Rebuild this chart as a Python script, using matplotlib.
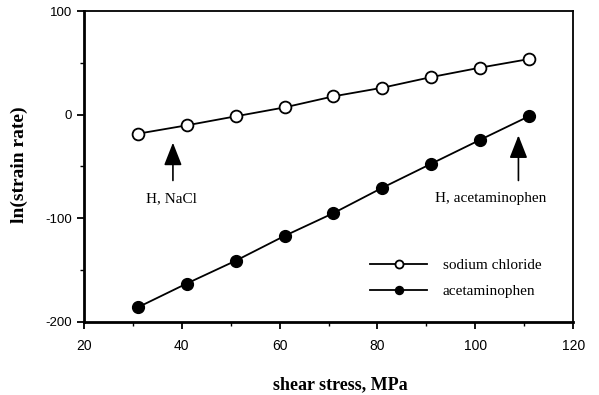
import matplotlib
matplotlib.use("Agg")
import matplotlib.pyplot as plt
from matplotlib.ticker import MultipleLocator
from matplotlib.patches import ArrowStyle

plt.rcParams['axes.unicode_minus'] = False

shear = [31, 41, 51, 61, 71, 81, 91, 101, 111]
nacl = [-18.4, -10.3, -1.6, 7.0, 17.7, 26.0, 36.3, 45.4, 53.7]
acet = [-186, -163, -141, -117, -95, -70.5, -47.3, -24.2, -1.4]
xticks = [20, 40, 60, 80, 100, 120]
yticks = [-200, -100, 0, 100]

fig = plt.figure(figsize=(5.99, 3.95), dpi=100)
ax = fig.add_axes([0.140, 0.185, 0.817, 0.787])

ax.plot(shear, nacl, '-o', color='black', mfc='white', mec='black', mew=1.3,
        ms=8.5, lw=1.3, label='sodium chloride')
ax.plot(shear, acet, '-o', color='black', mfc='black', mec='black',
        ms=8.5, lw=1.3, label='acetaminophen')

ax.set_xlim(20, 120)
ax.set_ylim(-200, 100)
ax.set_xticks(xticks)
ax.set_yticks(yticks)
ax.xaxis.set_minor_locator(MultipleLocator(10))
ax.yaxis.set_minor_locator(MultipleLocator(50))
ax.tick_params(which='major', direction='out', length=5, width=1.3,
               labelsize=9.5, labelfontfamily='Liberation Sans')
ax.tick_params(axis='x', which='major', pad=7, labelsize=10)
ax.tick_params(which='minor', direction='out', length=3, width=1.0)
for s in ['left', 'bottom']:
    ax.spines[s].set_linewidth(2.0)
for s in ['top', 'right']:
    ax.spines[s].set_linewidth(1.3)

ax.set_xlabel('shear stress, MPa', fontfamily='Liberation Serif',
              fontweight='bold', fontsize=13)
ax.xaxis.set_label_coords(0.5235, -0.203)
ax.xaxis.label.set_va('center')
ax.set_ylabel('ln(strain rate)', fontfamily='Liberation Serif',
              fontweight='bold', fontsize=14)
ax.yaxis.set_label_coords(-0.131, 0.505)
ax.yaxis.label.set_va('center')

astyle = ArrowStyle('-|>', head_length=1.4, head_width=0.55)
for xa, ytip, xt, label in [(38.2, -27, 37.8, 'H, NaCl'),
                            (108.8, -20, 103.2, 'H, acetaminophen')]:
    ax.annotate('', xy=(xa, ytip), xytext=(xa, -63.5),
                arrowprops=dict(arrowstyle=astyle, color='black', lw=1.2,
                                mutation_scale=10, shrinkA=0, shrinkB=0))
    ax.text(xt, -81, label, ha='center', va='center',
            fontfamily='Liberation Serif', fontsize=11)

leg = ax.legend(loc='center left', bbox_to_anchor=(0.573, 0.14),
                borderaxespad=0, frameon=False,
                prop={'family': 'Liberation Serif', 'size': 11},
                handlelength=3.7, markerscale=0.68, labelspacing=0.8,
                handletextpad=1.05)

fig.savefig('out.png', dpi=100)
